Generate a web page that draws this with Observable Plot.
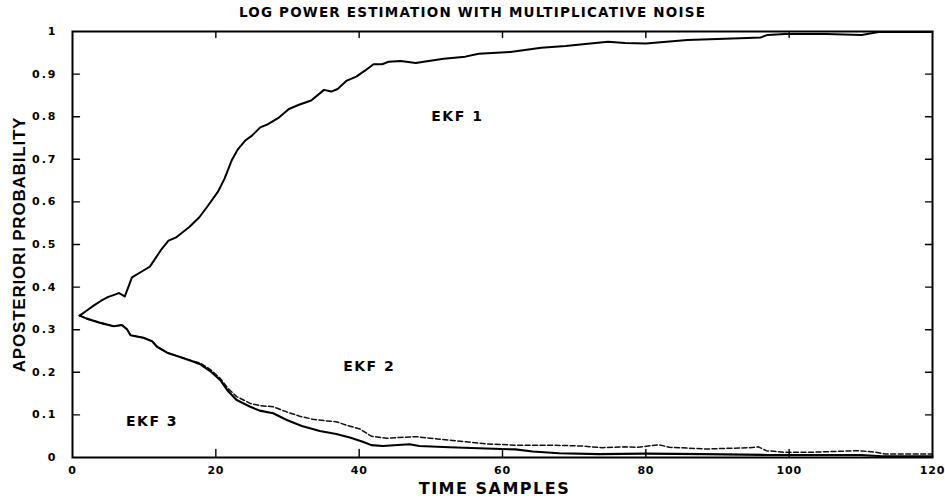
<!DOCTYPE html>
<html>
<head>
<meta charset="utf-8">
<script src="https://cdn.jsdelivr.net/npm/d3@7"></script>
<script src="https://cdn.jsdelivr.net/npm/@observablehq/plot@0.6"></script>
<style>
  body { margin: 0; background: #fff; }
  #title {
    width: 945px; height: 24px; line-height: 24px; text-align: center;
    font-family: "DejaVu Sans", sans-serif; font-weight: bold; font-size: 13.5px;
    letter-spacing: 1.2px; color: #000;
  }
  g[aria-label="x-axis tick label"] text { letter-spacing: 0.8px; }
  g[aria-label="y-axis tick label"] text { letter-spacing: 2px; }
  g[aria-label="text"][font-size="14"] text { letter-spacing: 1.5px; }
  g[aria-label="text"][font-size="16"] text { letter-spacing: 1.5px; }
  g[aria-label="text"][font-size="17"] text { letter-spacing: 0.8px; }
</style>
</head>
<body>
<div id="title">LOG POWER ESTIMATION WITH MULTIPLICATIVE NOISE</div>
<div id="chart"></div>
<script>
// ---- data ----
const ekf1Time = [1,2,3,4,5,6,6.5,7.3,8.3,9.9,10.8,12.3,13.4,14.4,16.3,17.7,18.9,20.3,21.2,22.2,23.1,24.1,25,26.2,27.1,28.8,30.2,31.6,33.3,35.1,36.1,37,38.2,39.6,40.8,42,43.2,44.1,45.8,47.9,49,51.8,54.8,56.7,61.1,65.4,68.8,74.7,77.1,80,85.8,93.1,96,97,99.4,105.2,110.1,112.5,120];
const ekf1Prob = [0.333,0.345,0.357,0.368,0.377,0.383,0.386,0.378,0.423,0.439,0.448,0.486,0.509,0.516,0.541,0.564,0.591,0.624,0.654,0.697,0.724,0.744,0.755,0.775,0.781,0.798,0.818,0.828,0.838,0.863,0.859,0.865,0.884,0.894,0.908,0.923,0.923,0.929,0.931,0.926,0.929,0.936,0.941,0.948,0.952,0.962,0.966,0.976,0.973,0.972,0.980,0.984,0.986,0.992,0.994,0.994,0.992,0.999,0.999];

const ekf2Time = [1,2,3.9,5.75,6.9,7.6,8.1,9.9,11.1,11.8,13.2,15,16.9,17.8,19.2,20.6,21.7,22.9,24.8,26.1,28,29.9,31.7,33.5,35.4,36.8,38.2,40.1,41.7,43.8,45.6,47.9,51.2,54.9,57.7,61.8,66.5,71.1,73.9,77.1,78.9,81.8,83.3,88.4,94.5,95.7,96.8,99.2,103.4,109.6,112,113.4,120];
const ekf2Prob = [0.333,0.326,0.316,0.308,0.311,0.301,0.287,0.281,0.273,0.260,0.246,0.236,0.226,0.222,0.207,0.186,0.162,0.143,0.127,0.122,0.119,0.107,0.097,0.090,0.086,0.084,0.076,0.067,0.050,0.045,0.047,0.049,0.043,0.037,0.032,0.029,0.029,0.027,0.023,0.025,0.024,0.030,0.024,0.020,0.023,0.025,0.016,0.0125,0.0125,0.016,0.0125,0.008,0.008];

const ekf3Time = [1,2,3.9,5.75,6.9,7.6,8.1,9.9,11.1,11.8,13.2,15,16.9,17.8,19.2,20.6,21.7,22.9,24.8,26.1,28,29.9,32,34.5,36.8,38.7,40.5,41.7,43.3,47,48.4,52.6,57.7,61.8,64.2,67.9,73.5,79.9,88,97,110,113,120];
const ekf3Prob = [0.333,0.326,0.316,0.308,0.311,0.301,0.287,0.281,0.273,0.260,0.246,0.236,0.225,0.219,0.203,0.182,0.156,0.135,0.119,0.110,0.104,0.088,0.074,0.062,0.055,0.047,0.037,0.029,0.027,0.031,0.027,0.024,0.021,0.019,0.014,0.010,0.008,0.009,0.008,0.006,0.006,0.003,0.003];

const seriesLabels = ["EKF 1", "EKF 2", "EKF 3"];
const labelTime = [53.7, 41.4, 11.1];
const labelProb = [0.80, 0.214, 0.085];

const xTicks = [0, 20, 40, 60, 80, 100, 120];
const yTicks = [0, 0.1, 0.2, 0.3, 0.4, 0.5, 0.6, 0.7, 0.8, 0.9, 1];
const yTickLabels = ["0", "0.1", "0.2", "0.3", "0.4", "0.5", "0.6", "0.7", "0.8", "0.9", "1"];
const xLabel = "TIME SAMPLES";
const yLabel = "APOSTERIORI PROBABILITY";

// ---- build ----
const toRows = (ts, ps) => ts.map((t, i) => ({t, p: ps[i]}));
const ekf1 = toRows(ekf1Time, ekf1Prob);
const ekf2 = toRows(ekf2Time, ekf2Prob);
const ekf3 = toRows(ekf3Time, ekf3Prob);
const labels = seriesLabels.map((s, i) => ({s, t: labelTime[i], p: labelProb[i]}));

const tickShape = { draw(context, l) { context.moveTo(0, 0); context.lineTo(0, -l); } };
const innerX = xTicks.slice(1, -1);
const innerY = yTicks.slice(1, -1);
const tickFont = {fontFamily: "DejaVu Sans", fontWeight: "bold", fontSize: 11};

const chart = Plot.plot({
  width: 945,
  height: 477,
  marginTop: 7,
  marginBottom: 44,
  marginLeft: 72,
  marginRight: 13,
  style: {background: "#fff", color: "#000", overflow: "visible"},
  x: {domain: [0, 120]},
  y: {domain: [0, 1]},
  marks: [
    Plot.line(ekf2, {x: "t", y: "p", stroke: "#111", strokeWidth: 1.5, strokeDasharray: "5,2.5"}),
    Plot.line(ekf3, {x: "t", y: "p", stroke: "#000", strokeWidth: 2.1}),
    Plot.line(ekf1, {x: "t", y: "p", stroke: "#000", strokeWidth: 2}),
    Plot.frame({stroke: "#000", strokeWidth: 2}),
    Plot.vector(innerX, {x: d => d, frameAnchor: "bottom", rotate: 0, length: 8, anchor: "start", shape: tickShape, stroke: "#000", strokeWidth: 1.4}),
    Plot.vector(innerX, {x: d => d, frameAnchor: "top", rotate: 180, length: 6, anchor: "start", shape: tickShape, stroke: "#000", strokeWidth: 1.4}),
    Plot.vector(innerY, {y: d => d, frameAnchor: "left", rotate: 90, length: 7, anchor: "start", shape: tickShape, stroke: "#000", strokeWidth: 1.4}),
    Plot.vector(innerY, {y: d => d, frameAnchor: "right", rotate: -90, length: 7, anchor: "start", shape: tickShape, stroke: "#000", strokeWidth: 1.4}),
    Plot.axisX({ticks: xTicks, tickSize: 0, tickPadding: 9, label: null, ...tickFont}),
    Plot.axisY({ticks: yTicks, tickSize: 0, tickPadding: 15, label: null, tickFormat: (d, i) => yTickLabels[i], ...tickFont}),
    Plot.text([xLabel], {frameAnchor: "bottom", dy: 36, dx: -8, textAnchor: "middle", text: d => d, fontFamily: "DejaVu Sans", fontWeight: "bold", fontSize: 16}),
    Plot.text([yLabel], {frameAnchor: "left", dx: -53, rotate: -90, textAnchor: "middle", text: d => d, fontFamily: "Liberation Sans Narrow, Liberation Sans, sans-serif", fontWeight: "bold", fontSize: 17}),
    Plot.text(labels, {x: "t", y: "p", text: "s", fontFamily: "DejaVu Sans", fontWeight: "bold", fontSize: 14})
  ]
});
document.getElementById("chart").appendChild(chart);
</script>
</body>
</html>
